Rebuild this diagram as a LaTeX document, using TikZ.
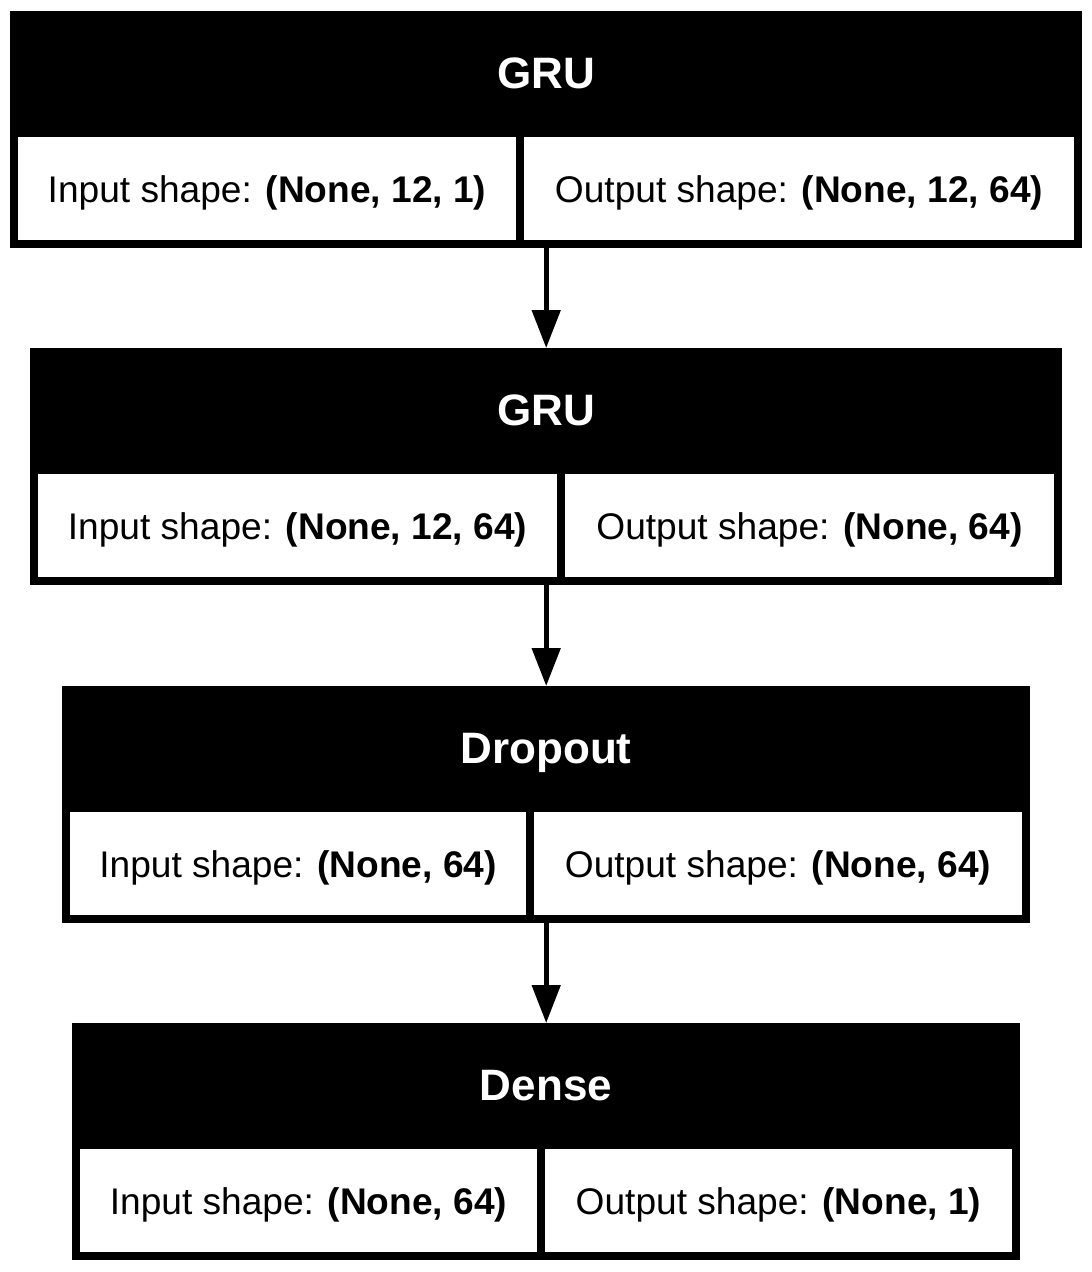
\documentclass[tikz,border=0pt]{standalone}
\usepackage{fontspec}
\setmainfont{Liberation Sans}
\usetikzlibrary{arrows.meta}
\tikzset{
 layerbox/.style={fill=black, draw=none, inner sep=0pt, anchor=north west},
 cellbox/.style={fill=white, draw=none, inner sep=0pt, anchor=north west},
 titletext/.style={text=white, font=\fontsize{44}{52}\selectfont\bfseries, anchor=base, inner sep=0pt},
 celltext/.style={font=\fontsize{37.1}{45}\selectfont, anchor=base, inner sep=0pt},
 flow/.style={line width=5pt, -{Triangle[length=38pt,width=28pt]}}
}
\newcommand\mylayer[8]{%
 \pgfmathsetmacro\myW{#3-#2}%
 \pgfmathsetmacro\myLW{#5-#2-8}%
 \pgfmathsetmacro\myRW{#3-8-#5-8}%
 \pgfmathsetmacro\myCX{(#2+#3)/2}%
 \pgfmathsetmacro\myLX{(#2+8+#5)/2}%
 \pgfmathsetmacro\myRX{(#5+#3)/2}%
 \node[layerbox, minimum width=\myW pt, minimum height=237pt] (#1) at (#2,#4) {};
 \node[cellbox, minimum width=\myLW pt, minimum height=103pt] (#1l) at (#2+8,#4+126) {};
 \node[cellbox, minimum width=\myRW pt, minimum height=103pt] (#1r) at (#5+8,#4+126) {};
 \node[titletext] (#1t) at (\myCX,#4+77) {#6};
 \node[celltext] (#1li) at (\myLX,#4+191) {Input shape: \textbf{#7}};
 \node[celltext] (#1ro) at (\myRX,#4+191) {Output shape: \textbf{#8}};
}
\begin{document}
\begin{tikzpicture}[x=1pt,y=-1pt]
\fill[white] (0,0) rectangle (1092,1272);
\useasboundingbox (0,0) rectangle (1092,1272);
\mylayer{ga}{10}{1082}{11}{516}{GRU}{(None, 12, 1)}{(None, 12, 64)}
\mylayer{gb}{30}{1062}{348}{557}{GRU}{(None, 12, 64)}{(None, 64)}
\mylayer{dr}{62}{1030}{686}{526}{Dropout}{(None, 64)}{(None, 64)}
\mylayer{de}{72}{1020}{1023}{537}{Dense}{(None, 64)}{(None, 1)}
\draw[flow] (ga.south) -- (gb.north);
\draw[flow] (gb.south) -- (dr.north);
\draw[flow] (dr.south) -- (de.north);
\end{tikzpicture}
\end{document}
